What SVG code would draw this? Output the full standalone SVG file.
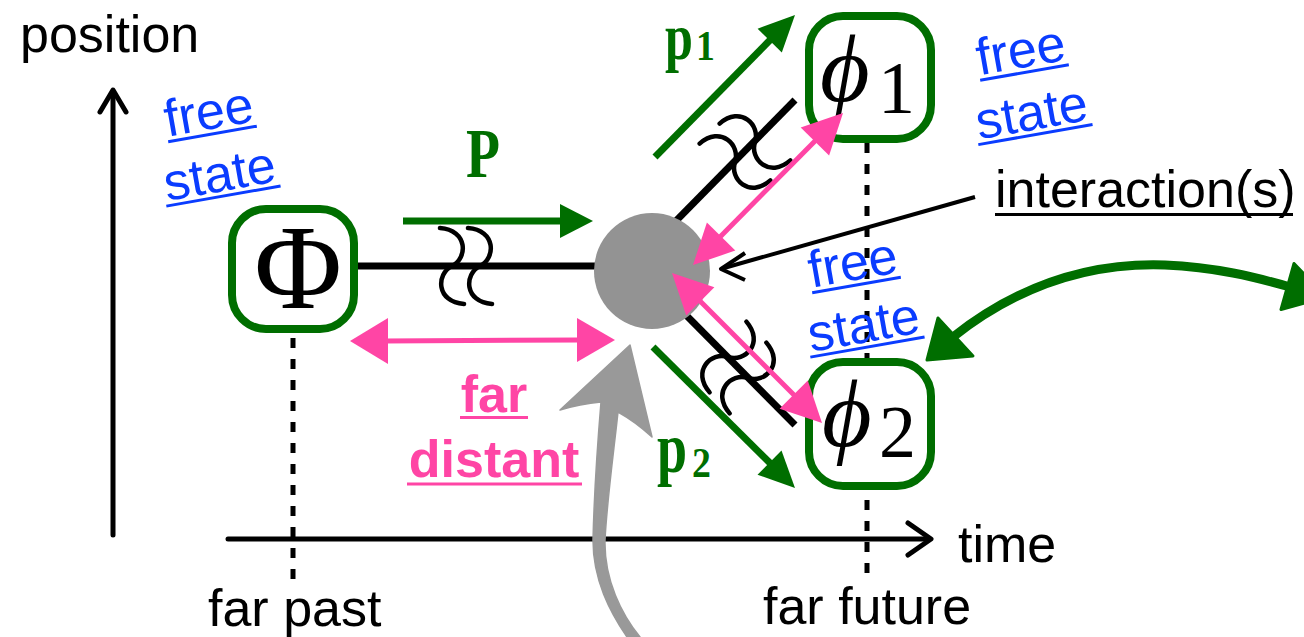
<svg xmlns="http://www.w3.org/2000/svg" width="1304" height="637" viewBox="0 0 1304 637">
<defs>
<style>
.lbl{font-family:"Liberation Sans",Arial,sans-serif;font-size:52px;fill:#000}
.blue{fill:#0a3cff}
.bul{stroke:#0a3cff;stroke-width:3}
.pinkt{fill:#ff45a5;font-weight:bold}
.pul{stroke:#ff45a5;stroke-width:3}
.box{fill:#fff;stroke:#006e00;stroke-width:8}
.dash{stroke:#000;stroke-width:5;stroke-dasharray:10 11;fill:none}
.ax{stroke:#000;stroke-width:5;fill:none;stroke-linejoin:round;stroke-linecap:round}
.gr{fill:#006e00}
.grl{stroke:#006e00;stroke-width:7;fill:none}
.pk{fill:#ff45a5}
.pkl{stroke:#ff45a5;stroke-width:5;fill:none}
.sq{stroke:#000;stroke-width:4.5;fill:none;stroke-linecap:round}
.bl{stroke:#000;stroke-width:7}
.math{font-family:"Liberation Serif","DejaVu Serif",serif;fill:#000}
.phi{font-family:"Liberation Serif","DejaVu Serif",serif;font-style:italic;font-size:96px;fill:#000}
.mom{font-family:"Liberation Serif",serif;font-weight:bold;fill:#006e00}
</style>
<path id="sq" d="M -12,-38 C 16,-36 16,-8 0,0 C -16,8 -16,36 12,38"/>
</defs>

<!-- axes and dashed time markers -->
<g id="axes">
<line class="dash" x1="293" y1="317" x2="293" y2="580"/>
<line class="dash" x1="867" y1="143" x2="867" y2="584"/>
<line class="ax" x1="113" y1="535" x2="113" y2="92"/>
<polyline class="ax" points="100,112 113,90 126,112"/>
<line class="ax" x1="228" y1="539" x2="929" y2="539"/>
<polyline class="ax" points="908,523 931,539 908,555"/>
<text class="lbl" x="20" y="52">position</text>
<text class="lbl" x="958" y="562">time</text>
<text class="lbl" x="208" y="626">far past</text>
<text class="lbl" x="763" y="624">far future</text>
</g>

<!-- connectors -->
<g id="connectors">
<line class="bl" x1="358" y1="266" x2="652" y2="266"/>
<line class="bl" x1="670" y1="227" x2="795" y2="100"/>
<line class="bl" x1="680" y1="309" x2="795" y2="425"/>
<use href="#sq" class="sq" transform="translate(452,266)"/>
<use href="#sq" class="sq" transform="translate(480,266)"/>
<use href="#sq" class="sq" transform="translate(735,162) rotate(-45)"/>
<use href="#sq" class="sq" transform="translate(755,142) rotate(-45)"/>
<use href="#sq" class="sq" transform="translate(728,357) rotate(45)"/>
<use href="#sq" class="sq" transform="translate(748,378) rotate(45)"/>
</g>

<!-- interaction vertex -->
<g id="vertex">
<circle cx="652" cy="271" r="58" fill="#939393"/>
</g>

<!-- momentum arrows -->
<g id="momenta">
<line class="grl" x1="403" y1="221" x2="562" y2="221"/>
<polygon class="gr" points="593,221 560,204 560,238"/>
<line class="grl" x1="655" y1="157" x2="772" y2="38"/>
<polygon class="gr" points="795,15 757.6,28.7 781.8,52.5"/>
<line class="grl" x1="653" y1="347" x2="771" y2="464"/>
<polygon class="gr" points="795,488 757.5,474.7 781.5,450.5"/>
<text class="mom" x="466" y="177" font-size="70" textLength="34" lengthAdjust="spacingAndGlyphs">P</text>
<text class="mom" transform="translate(665,59) scale(0.76,1)" font-size="66">p</text>
<text class="mom" transform="translate(696,60) scale(0.9,1)" font-size="42">1</text>
<text class="mom" transform="translate(657,472) scale(0.75,1)" font-size="72">p</text>
<text class="mom" transform="translate(692,477) scale(0.9,1)" font-size="42">2</text>
</g>

<!-- nodes -->
<g id="node-Phi">
<rect class="box" x="232" y="209" width="122" height="120" rx="34"/>
<text class="math" x="298" y="308" text-anchor="middle" font-size="120">Φ</text>
</g>
<g id="node-phi1">
<rect class="box" x="809" y="16" width="122" height="123" rx="34"/>
<text class="phi" x="820" y="101">ϕ</text>
<text class="math" x="878" y="113" font-size="74">1</text>
</g>
<g id="node-phi2">
<rect class="box" x="809" y="362" width="122" height="124" rx="34"/>
<text class="phi" x="822" y="446">ϕ</text>
<text class="math" x="879" y="457" font-size="74">2</text>
</g>

<!-- distance arrows (pink) -->
<g id="distances">
<line class="pkl" x1="385" y1="341" x2="580" y2="340"/>
<polygon class="pk" points="350,341 388,318 388,364"/>
<polygon class="pk" points="615,340 577,318 577,362"/>
<line class="pkl" x1="718" y1="239" x2="818" y2="138"/>
<polygon class="pk" points="843,113 800.7,127.4 829.1,155.6"/>
<polygon class="pk" points="693,265 706.9,222.4 735.3,250.6"/>
<line class="pkl" x1="697" y1="298" x2="797" y2="398"/>
<polygon class="pk" points="822,423 779.6,408.8 807.8,380.6"/>
<polygon class="pk" points="672,273 686.2,315.4 714.4,287.2"/>
<text class="lbl pinkt" x="494" y="412" text-anchor="middle">far</text>
<line class="pul" x1="460" y1="417.5" x2="528" y2="417.5"/>
<text class="lbl pinkt" x="494" y="477" text-anchor="middle">distant</text>
<line class="pul" x1="407" y1="484" x2="582" y2="484"/>
</g>

<!-- interaction label -->
<g id="interaction-label">
<line x1="975" y1="197" x2="724" y2="268" stroke="#000" stroke-width="4"/>
<polyline points="745,253 721,269 745,280" fill="none" stroke="#000" stroke-width="4" stroke-linejoin="round"/>
<text class="lbl" x="995" y="207">interaction(s)</text>
<line x1="995" y1="214.5" x2="1293" y2="214.5" stroke="#000" stroke-width="3"/>
</g>

<!-- free state labels -->
<g id="free-state-left" transform="translate(212.5,134) rotate(-10)">
<text class="lbl blue" x="0" y="-5" text-anchor="middle">free</text>
<line class="bul" x1="-45" y1="0" x2="45" y2="0"/>
<text class="lbl blue" x="0" y="58" text-anchor="middle">state</text>
<line class="bul" x1="-58" y1="63" x2="58" y2="63"/>
</g>
<g id="free-state-right-top" transform="translate(1024.5,72.5) rotate(-10)">
<text class="lbl blue" x="0" y="-5" text-anchor="middle">free</text>
<line class="bul" x1="-45" y1="0" x2="45" y2="0"/>
<text class="lbl blue" x="0" y="58" text-anchor="middle">state</text>
<line class="bul" x1="-58" y1="63" x2="58" y2="63"/>
</g>
<g id="free-state-right-mid" transform="translate(856.5,285) rotate(-10)">
<text class="lbl blue" x="0" y="-5" text-anchor="middle">free</text>
<line class="bul" x1="-45" y1="0" x2="45" y2="0"/>
<text class="lbl blue" x="0" y="58" text-anchor="middle">state</text>
<line class="bul" x1="-58" y1="63" x2="58" y2="63"/>
</g>

<!-- gray pointer arrow -->
<g id="gray-arrow">
<path d="M 630,345 L 652,437 Q 636,422 618,412 C 614,450 607,500 605,540 C 604,580 622,615 640,637 L 627,637 C 610,612 593,580 593,540 C 594,500 597,450 601,402 Q 580,404 560,410 Z" fill="#999" stroke="#999" stroke-width="1.5" stroke-linejoin="round"/>
</g>

<!-- green curved double arrow -->
<g id="curved-arrow">
<path d="M 953,337 C 1010,292 1080,262 1165,265 C 1215,267 1255,277 1290,287" fill="none" stroke="#006e00" stroke-width="9" stroke-linecap="round"/>
<polygon class="gr" points="927,360 938,318 973,356" stroke="#006e00" stroke-width="3" stroke-linejoin="round"/>
<polygon class="gr" points="1294,263.5 1326,297 1281,309.5" stroke="#006e00" stroke-width="3" stroke-linejoin="round"/>
</g>
</svg>
